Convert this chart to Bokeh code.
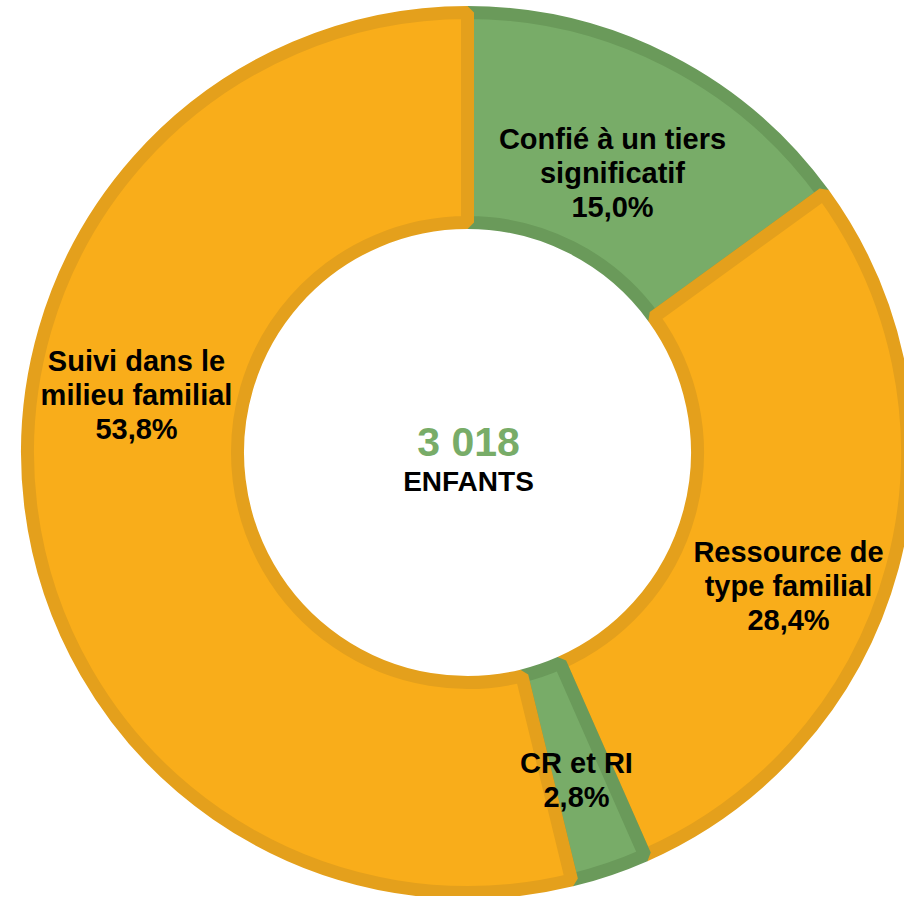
import math
from bokeh.plotting import figure
from bokeh.models import Range1d, ColumnDataSource
from bokeh.core.properties import value
from bokeh.embed import file_html
from bokeh.resources import INLINE

# ---- data ----
categories = ["Confié à un tiers\nsignificatif",
              "Ressource de\ntype familial",
              "CR et RI",
              "Suivi dans le\nmilieu familial"]
shares = [15.0, 28.4, 2.8, 53.8]          # percent
total_children = 3018
center_caption = "ENFANTS"

# ---- styles / layout ----
fills = ["#78AC68", "#F9AD1A", "#78AC68", "#F9AD1A"]
borders = ["#6A9A5A", "#E4A01C", "#6A9A5A", "#E4A01C"]
cx, cy = 467, -452
r_out, r_in = 440, 230
label_first_line = [(612, -138), (788, -551), (576, -762), (136, -360)]
line_step = 34
FONT = "Liberation Sans"

p = figure(width=904, height=896, x_range=Range1d(0, 904), y_range=Range1d(-896, 0),
           output_backend="svg", toolbar_location=None, min_border=0,
           outline_line_color=None, background_fill_color="white",
           border_fill_color="white")
p.axis.visible = False
p.grid.visible = False

total = sum(shares)
starts, ends = [], []
acc = 0.0
for s in shares:
    starts.append(math.pi / 2 - 2 * math.pi * acc / total)
    acc += s
    ends.append(math.pi / 2 - 2 * math.pi * acc / total)

src = ColumnDataSource(dict(x=[cx] * len(shares), y=[cy] * len(shares),
                            start=starts, end=ends, fill=fills, line=borders))
p.annular_wedge(x="x", y="y", inner_radius=r_in, outer_radius=r_out,
                start_angle="start", end_angle="end", direction="clock",
                fill_color="fill", line_color="line", line_width=13, source=src)

# labels
tx, ty, tt = [], [], []
for cat, s, (lx, ly) in zip(categories, shares, label_first_line):
    lines = cat.split("\n") + [f"{s:.1f}".replace(".", ",") + "%"]
    for i, ln in enumerate(lines):
        tx.append(lx)
        ty.append(ly - i * line_step)
        tt.append(ln)
p.text(x=tx, y=ty, text=tt, text_font=value(FONT), text_font_style="bold",
       text_font_size="29px", text_color="black", text_align="center",
       text_baseline="middle")

# center
p.text(x=[468], y=[-441], text=[f"{total_children:,}".replace(",", " ")],
       text_font=value(FONT), text_font_style="bold", text_font_size="41px",
       text_color="#78AC68", text_align="center", text_baseline="middle")
p.text(x=[468], y=[-481], text=[center_caption],
       text_font=value(FONT), text_font_style="bold", text_font_size="28px",
       text_color="black", text_align="center", text_baseline="middle")

open("out.html", "w").write(file_html(p, INLINE))
